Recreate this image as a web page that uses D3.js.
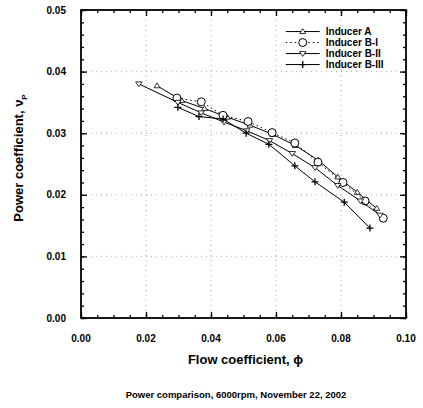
<!DOCTYPE html>
<html>
<head>
<meta charset="utf-8">
<script src="https://cdn.jsdelivr.net/npm/d3@7"></script>
<style>
  body { margin: 0; background: #fff; }
  text { font-family: "Liberation Sans", Arial, sans-serif; }
</style>
</head>
<body>
<div id="chart"></div>
<script>
// values (phi, nu_p)
const inducerA = [[0.0234,0.0377],[0.031,0.0353],[0.038,0.0340],[0.045,0.0326],[0.052,0.0313],[0.059,0.0298],[0.066,0.0280],[0.073,0.0256],[0.079,0.0229],[0.085,0.0204],[0.091,0.0178]];
const inducerB1 = [[0.0295,0.0357],[0.037,0.0351],[0.0437,0.0329],[0.0514,0.0319],[0.0588,0.0301],[0.0658,0.0284],[0.0729,0.0253],[0.0806,0.0220],[0.0874,0.0190],[0.093,0.0162]];
const inducerB2 = [[0.0178,0.0380],[0.0298,0.0350],[0.037,0.0333],[0.044,0.0318],[0.051,0.0304],[0.058,0.0288],[0.065,0.0267],[0.072,0.0244],[0.079,0.0215],[0.086,0.0190],[0.092,0.0167]];
const inducerB3 = [[0.0298,0.0342],[0.0363,0.0327],[0.0437,0.0323],[0.0508,0.0300],[0.0578,0.0282],[0.0658,0.0247],[0.072,0.0221],[0.081,0.0188],[0.0889,0.0146]];

const seriesNames = ["Inducer A", "Inducer B-I", "Inducer B-II", "Inducer B-III"];
const xTicks = [0, 0.02, 0.04, 0.06, 0.08, 0.10];
const yTicks = [0, 0.01, 0.02, 0.03, 0.04, 0.05];

const W = 423, H = 408;
const margin = {top: 10, right: 17, bottom: 90, left: 81};
const width = W - margin.left - margin.right;
const height = H - margin.top - margin.bottom;

const svg = d3.select("#chart").append("svg")
  .attr("width", W).attr("height", H);
const g = svg.append("g").attr("transform", `translate(${margin.left},${margin.top})`);

const x = d3.scaleLinear().domain([0, 0.10]).range([0, width]);
const y = d3.scaleLinear().domain([0, 0.05]).range([height, 0]);

// dotted grid at major ticks
g.append("g").selectAll("line").data(xTicks.slice(1, -1)).enter().append("line")
  .attr("x1", d => x(d)).attr("x2", d => x(d)).attr("y1", 0).attr("y2", height)
  .attr("stroke", "#aaa").attr("stroke-width", 1).attr("stroke-dasharray", "1,4");
g.append("g").selectAll("line").data(yTicks.slice(1, -1)).enter().append("line")
  .attr("y1", d => y(d)).attr("y2", d => y(d)).attr("x1", 0).attr("x2", width)
  .attr("stroke", "#aaa").attr("stroke-width", 1).attr("stroke-dasharray", "1,4");

// inward ticks on all four sides
const xMinor = d3.range(0, 0.1001, 0.005);
const yMinor = d3.range(0, 0.0501, 0.002);
function ticksAxis(axis, scale, values, size) {
  return axis(scale).tickValues(values).tickSize(size).tickFormat("");
}
const axes = g.append("g").attr("class", "axes");
axes.append("g").attr("transform", `translate(0,${height})`).call(ticksAxis(d3.axisTop, x, xMinor, 3));
axes.append("g").attr("transform", `translate(0,${height})`).call(ticksAxis(d3.axisTop, x, xTicks, 6));
axes.append("g").call(ticksAxis(d3.axisBottom, x, xMinor, 3));
axes.append("g").call(ticksAxis(d3.axisBottom, x, xTicks, 6));
axes.append("g").call(ticksAxis(d3.axisRight, y, yMinor, 3));
axes.append("g").call(ticksAxis(d3.axisRight, y, yTicks, 6));
axes.append("g").attr("transform", `translate(${width},0)`).call(ticksAxis(d3.axisLeft, y, yMinor, 3));
axes.append("g").attr("transform", `translate(${width},0)`).call(ticksAxis(d3.axisLeft, y, yTicks, 6));
axes.selectAll("line").attr("stroke", "#000").attr("stroke-width", 1.3);
axes.selectAll(".domain").remove();

g.append("rect").attr("width", width).attr("height", height)
  .attr("fill", "none").attr("stroke", "#000").attr("stroke-width", 1.8);

// tick labels
g.append("g").selectAll("text").data(xTicks).enter().append("text")
  .attr("x", d => x(d)).attr("y", height + 24)
  .attr("text-anchor", "middle").style("font-size", "10px").style("font-weight", "bold")
  .text(d => d.toFixed(2));
g.append("g").selectAll("text").data(yTicks).enter().append("text")
  .attr("x", -15).attr("y", d => y(d)).attr("dy", "0.35em")
  .attr("text-anchor", "end").style("font-size", "10px").style("font-weight", "bold")
  .text(d => d.toFixed(2));

// axis titles
g.append("text")
  .attr("x", width / 2 + 2).attr("y", height + 46)
  .attr("text-anchor", "middle").style("font-size", "13px").style("font-weight", "bold")
  .text("Flow coefficient,   \u03d5");
const yt = g.append("text")
  .attr("transform", `translate(-58,${height / 2 - 6}) rotate(-90)`)
  .attr("text-anchor", "middle").style("font-size", "13px").style("font-weight", "bold");
yt.append("tspan").text("Power coefficient,  \u03bd");
yt.append("tspan").attr("dy", 4).style("font-size", "8px").text("P");

svg.append("text")
  .attr("x", 236).attr("y", 398)
  .attr("text-anchor", "middle").style("font-size", "9.5px").style("font-weight", "bold")
  .text("Power comparison, 6000rpm, November 22, 2002");

// series
const series = [
  {name: seriesNames[0], data: inducerA, dash: null, marker: "triUp"},
  {name: seriesNames[1], data: inducerB1, dash: "1.5,3", marker: "circle"},
  {name: seriesNames[2], data: inducerB2, dash: null, marker: "triDown"},
  {name: seriesNames[3], data: inducerB3, dash: null, marker: "plus"}
];

const line = d3.line().x(d => x(d[0])).y(d => y(d[1]));

function drawMarker(sel, type, cx, cy) {
  if (type === "circle") {
    sel.append("circle").attr("cx", cx).attr("cy", cy).attr("r", 4)
      .attr("fill", "#fff").attr("stroke", "#000").attr("stroke-width", 1);
  } else if (type === "triUp") {
    sel.append("path").attr("d", `M${cx},${cy - 2.8}L${cx + 3},${cy + 2}L${cx - 3},${cy + 2}Z`)
      .attr("fill", "#fff").attr("stroke", "#000").attr("stroke-width", 0.8);
  } else if (type === "triDown") {
    sel.append("path").attr("d", `M${cx - 3.2},${cy - 2}L${cx + 3.2},${cy - 2}L${cx},${cy + 2.8}Z`)
      .attr("fill", "#fff").attr("stroke", "#000").attr("stroke-width", 0.8);
  } else {
    sel.append("path").attr("d", `M${cx - 3.5},${cy}H${cx + 3.5}M${cx},${cy - 3.5}V${cy + 3.5}`)
      .attr("stroke", "#000").attr("stroke-width", 1.3);
  }
}

series.forEach(s => {
  g.append("path").datum(s.data)
    .attr("fill", "none").attr("stroke", "#000").attr("stroke-width", 1)
    .attr("stroke-dasharray", s.dash)
    .attr("d", line);
  const mg = g.append("g");
  s.data.forEach(d => drawMarker(mg, s.marker, x(d[0]), y(d[1])));
});

// legend
const legend = g.append("g").attr("transform", `translate(${x(0.063)},${y(0.0465)})`);
series.forEach((s, i) => {
  const row = legend.append("g").attr("transform", `translate(0,${i * 11})`);
  row.append("line").attr("x1", 0).attr("x2", 34).attr("y1", 0).attr("y2", 0)
    .attr("stroke", "#000").attr("stroke-width", 1).attr("stroke-dasharray", s.dash);
  drawMarker(row, s.marker, 17, 0);
  row.append("text").attr("x", 40).attr("y", 0).attr("dy", "0.35em")
    .style("font-size", "10px").style("font-weight", "bold").text(s.name);
});
</script>
</body>
</html>
